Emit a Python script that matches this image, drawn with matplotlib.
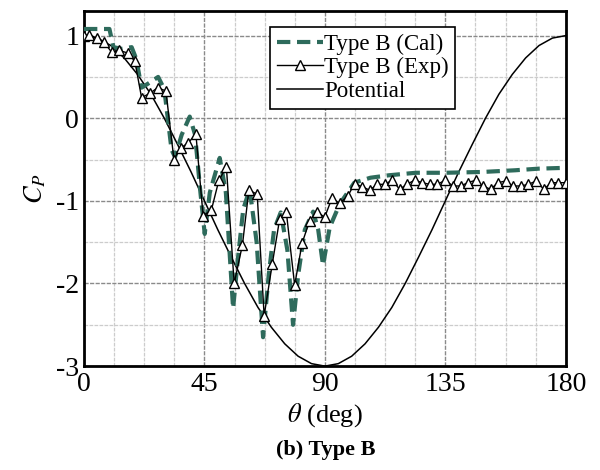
import matplotlib
matplotlib.use("Agg")
from matplotlib import pyplot as plt
from matplotlib.ticker import MultipleLocator

# angle (deg) and Cp
exp_theta = [0, 2.0, 4.7, 7.5, 10.3, 13.2, 16.3, 19.0, 21.5, 24.6, 27.5, 30.6,
             33.6, 36.1, 38.9, 41.8, 44.5, 47.6, 50.4, 53.2, 56.1, 59.2, 61.6,
             64.7, 67.3, 70.3, 73.1, 75.6, 78.7, 81.5, 84.3, 87.1, 89.9, 92.6,
             95.5, 98.6, 101.1, 104.0, 106.7, 109.6, 112.3, 115.2, 117.9, 120.6,
             123.5, 126.4, 129.1, 132.0, 135.0, 137.8, 140.7, 143.4, 146.3,
             149.0, 151.9, 154.6, 157.5, 160.2, 163.1, 166.0, 168.9, 171.8,
             174.5, 177.2, 180.0]
exp_cp = [1.00, 1.01, 0.97, 0.92, 0.80, 0.82, 0.79, 0.69, 0.25, 0.30, 0.37, 0.33,
          -0.50, -0.36, -0.30, -0.19, -1.18, -1.11, -0.75, -0.59, -2.00, -1.53,
          -0.87, -0.92, -2.39, -1.77, -1.22, -1.14, -2.02, -1.51, -1.24, -1.13,
          -1.20, -0.97, -1.03, -0.94, -0.79, -0.83, -0.87, -0.80, -0.80, -0.75,
          -0.86, -0.80, -0.75, -0.78, -0.80, -0.80, -0.75, -0.82, -0.82, -0.78,
          -0.75, -0.82, -0.86, -0.78, -0.76, -0.82, -0.82, -0.80, -0.76, -0.86,
          -0.78, -0.78, -0.78]

cal_theta = [0, 9.5, 11, 14, 17.8, 19.5, 21.5, 24, 27.7, 30, 32.7, 34, 36.5,
             39.5, 41.5, 43.5, 45.1, 47, 50.7, 53, 55.7, 57.5, 59.5, 61.9, 64.5,
             66.9, 69, 71, 73.5, 76, 78.1, 80, 82.5, 85.6, 87.5, 89.3, 91.8,
             95.5, 101, 107, 114, 124, 135, 149, 161, 170, 180]
cal_cp = [1.08, 1.08, 0.86, 0.84, 0.86, 0.72, 0.37, 0.42, 0.50, 0.35, -0.38,
          -0.47, -0.20, 0.02, -0.20, -0.90, -1.40, -0.90, -0.48, -0.90, -2.30,
          -1.70, -1.10, -0.86, -1.50, -2.65, -1.90, -1.35, -1.14, -1.60, -2.50,
          -1.90, -1.35, -1.13, -1.35, -1.78, -1.32, -1.04, -0.78, -0.72, -0.69,
          -0.66, -0.66, -0.65, -0.63, -0.61, -0.60]

pot_theta = [0, 5, 10, 15, 20, 25, 30, 35, 40, 45, 50, 55, 60, 65, 70, 75, 80,
             85, 90, 95, 100, 105, 110, 115, 120, 125, 130, 135, 140, 145, 150,
             155, 160, 165, 170, 175, 180]
pot_cp = [1.00, 0.97, 0.88, 0.73, 0.53, 0.29, 0.00, -0.32, -0.65, -1.00, -1.35,
          -1.68, -2.00, -2.29, -2.53, -2.73, -2.88, -2.97, -3.00, -2.97, -2.88,
          -2.73, -2.53, -2.29, -2.00, -1.68, -1.35, -1.00, -0.65, -0.32, 0.00,
          0.29, 0.53, 0.73, 0.88, 0.97, 1.00]

plt.rcParams['font.family'] = ['Liberation Serif', 'DejaVu Serif']
plt.rcParams['mathtext.fontset'] = 'stix'
plt.rcParams['axes.unicode_minus'] = False

fig = plt.figure(figsize=(6, 4.7), dpi=100)
ax = fig.add_axes([0.14, 0.221, 0.803, 0.756])

ax.plot(cal_theta, cal_cp, color='#2e6b5c', lw=3, dashes=(3.2, 1.6),
        label='Type B (Cal)', zorder=3)
ax.plot(exp_theta, exp_cp, color='black', lw=1, marker='^', markersize=7.5,
        markerfacecolor='white', markeredgecolor='black', markeredgewidth=1,
        label='Type B (Exp)', zorder=4)
ax.plot(pot_theta, pot_cp, color='black', lw=1.1, label='Potential', zorder=2)

ax.set_xlim(0, 180)
ax.set_ylim(-3, 1.3)
ax.set_xticks([0, 45, 90, 135, 180])
ax.set_yticks([-3, -2, -1, 0, 1])
ax.xaxis.set_minor_locator(MultipleLocator(11.25))
ax.yaxis.set_minor_locator(MultipleLocator(0.5))
ax.tick_params(which='both', length=0, labelsize=20)
ax.tick_params(axis='x', pad=4)
ax.grid(which='major', color='#8a8a8a', lw=1, ls=(0, (3, 1)))
ax.grid(which='minor', color='#cccccc', lw=0.9, ls=(0, (3, 1)))
for s in ax.spines.values():
    s.set_linewidth(2)

ax.set_xlabel(r'$\theta$ (deg)', fontsize=19, labelpad=3)
ax.set_ylabel(r'$C_P$', fontsize=19, labelpad=6)

leg = ax.legend(loc='upper left', bbox_to_anchor=(0.386, 0.955), fontsize=16.5,
                frameon=True, fancybox=False, edgecolor='black',
                handlelength=2.0, handletextpad=0.05, borderpad=0.3,
                labelspacing=0.1, borderaxespad=0, framealpha=1)
leg.get_frame().set_linewidth(1.2)

fig.text(0.543, 0.022, '(b) Type B', fontsize=16, fontweight='bold',
         ha='center', va='bottom')

fig.savefig('out.png', dpi=100)
